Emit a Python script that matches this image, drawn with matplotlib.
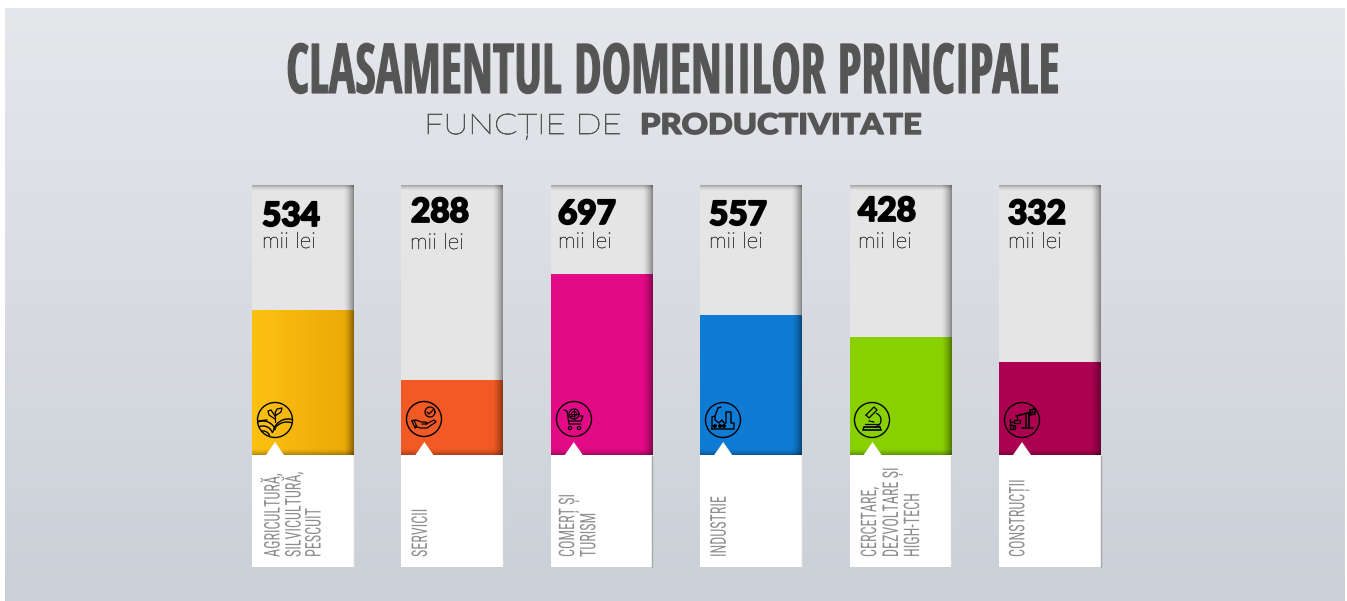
import numpy as np
import matplotlib
matplotlib.use("Agg")
import matplotlib.pyplot as plt
from matplotlib.patheffects import AbstractPathEffect
from matplotlib.patches import Polygon, Circle, Rectangle
from matplotlib.text import Text
from matplotlib.transforms import Affine2D, Bbox

W, H = 1347, 601

# ---- data ----
values = [534, 288, 697, 557, 428, 332]
# visible height of every coloured fill, as a percentage of the column
fill_percent = [53.7, 27.8, 67.0, 51.9, 43.7, 34.4]
unit = "mii lei"
labels = [["AGRICULTURĂ,", "SILVICULTURĂ,", "PESCUIT"],
          ["SERVICII"],
          ["COMERȚ ȘI", "TURISM"],
          ["INDUSTRIE"],
          ["CERCETARE,", "DEZVOLTARE ȘI", "HIGH-TECH"],
          ["CONSTRUCȚII"]]
colors = ["#fdc112", "#f15a24", "#e20a85", "#0e7bd5", "#88d000", "#ac0050"]
title = "CLASAMENTUL DOMENIILOR PRINCIPALE"
sub_light = "FUNCȚIE DE"
sub_bold = "PRODUCTIVITATE"
icons = ["agri", "serv", "cart", "fact", "micro", "crane"]


class Fit(AbstractPathEffect):
    def __init__(self, sx=1, sy=1, px=0, py=0, stroke=0):
        super().__init__()
        self.m = Affine2D().translate(-px, -py).scale(sx, sy).translate(px, py)
        self.stroke = stroke

    def draw_path(self, renderer, gc, tpath, affine, rgbFace=None):
        g = renderer.new_gc()
        g.copy_properties(gc)
        if self.stroke:
            g.set_linewidth(self.stroke)
            g.set_foreground(rgbFace)
        renderer.draw_path(g, tpath, affine + self.m, rgbFace)
        g.restore()


class FitText(Text):
    """Real text, condensed or widened along its reading direction."""
    def __init__(self, x, y, s, sx=1, sy=1, px=0, py=0, stroke=0, **kw):
        super().__init__(x, y, s, **kw)
        self.fit = Fit(sx, sy, px, py, stroke)
        self.set_path_effects([self.fit])

    def get_window_extent(self, renderer=None, dpi=None):
        b = super().get_window_extent(renderer, dpi)
        return Bbox(self.fit.m.transform(b.get_points()))


fig = plt.figure(figsize=(W / 100, H / 100), dpi=100, facecolor="white")
bg = fig.add_axes([0, 0, 1, 1], zorder=0)
chart = fig.add_axes([252 / W, (H - 455) / H, 849 / W, 270 / H], zorder=1)
ov = fig.add_axes([0, 0, 1, 1], zorder=2)
for a in (bg, ov):
    a.set_xlim(0, W); a.set_ylim(H, 0); a.axis("off")
ov.patch.set_alpha(0)

# background panel
grad = np.linspace(0, 1, 256)[:, None, None]
top_c, bot_c = np.array([0.898, 0.906, 0.922]), np.array([0.796, 0.816, 0.847])
bg.imshow(top_c + (bot_c - top_c) * grad, extent=(5, 1345, 601, 8), aspect="auto", interpolation="bilinear")
bg.set_xlim(0, W); bg.set_ylim(H, 0)

# columns
step = 149.4
bar_w = 102 / step
xs = np.arange(len(values))
chart.set_xlim(0, 849 / step); chart.set_ylim(0, 100); chart.axis("off")
chart.patch.set_alpha(0)
chart.bar(xs, [100] * len(xs), width=bar_w, align="edge", color="#e5e5e5", lw=0)
chart.bar(xs, fill_percent, width=bar_w, align="edge", color=colors, lw=0)
# yellow horizontal sheen
sheen = np.zeros((1, 64, 4))
sheen[..., :3] = np.array([0.91, 0.65, 0.02])
sheen[..., 3] = np.linspace(0, 0.9, 64)
chart.imshow(sheen, extent=(0, bar_w, 0, fill_percent[0]), aspect="auto", interpolation="bilinear", zorder=3)
chart.set_xlim(0, 849 / step); chart.set_ylim(0, 100)


def shade(a, ext, direction, amax):
    n = 32
    r = np.linspace(0, 1, n) ** 1.6 * amax
    img = np.zeros((n, 1, 4)) if direction in "tb" else np.zeros((1, n, 4))
    if direction in "tb":
        img[:, 0, 3] = r if direction == "b" else r[::-1]
    else:
        img[0, :, 3] = r
    a.imshow(img, extent=ext, aspect="auto", interpolation="bilinear", zorder=2)


lefts = [252 + i * step for i in xs]
for i, l in enumerate(lefts):
    r = l + 102
    shade(ov, (r - 11, r, 455, 185), "r", 0.42)
    shade(ov, (l, r, 191, 185), "t", 0.30)
    shade(ov, (l, r, 455, 448), "b", 0.30)
    ov.add_patch(Rectangle((l, 455), 102, 112, fc="white", ec="none", zorder=3))
    ov.plot([r - .5, r - .5], [456, 567], color="#d4d6da" if i not in (2, 5) else "#a8a8a8", lw=1, zorder=3)
    cx = l + 23
    ov.add_patch(Polygon([(cx - 9, 456), (cx - 9, 455), (cx, 442), (cx + 9, 455), (cx + 9, 456)],
                         fc="white", ec="none", zorder=3))
ov.set_xlim(0, W); ov.set_ylim(H, 0)


def T(x, y, s, sx=1, sy=1, px=0, py=0, stroke=0, **kw):
    t = FitText(x, y, s, sx=sx, sy=sy, px=px, py=py, stroke=stroke, **kw)
    t.set_zorder(5)
    ov.add_artist(t)
    t.set_clip_on(False)
    return t


COND = ["Open Sans Condensed", "Roboto Condensed", "DejaVu Sans"]
T(673.5, 93, title, sx=0.719, px=673.5, stroke=0.8, ha="center", va="baseline", fontsize=49.5,
  family=COND, weight="bold", color="#555555")
T(424, 134, sub_light, sx=1.21, px=424, stroke=0.55, ha="left", va="baseline", fontsize=20.5,
  family=["Lato", "DejaVu Sans"], weight="light", color="#555555")
T(640, 134, sub_bold, sx=1.144, px=640, stroke=1.0, ha="left", va="baseline", fontsize=20.5,
  family=["Lato", "DejaVu Sans"], weight="black", color="#555555")

val_x = [262, 411, 558, 709, 858, 1008]
val_y = [226, 222, 224, 225, 221, 224]
unit_x = [262, 410, 558, 709, 858, 1008]
unit_y = [248, 249, 248, 248, 248, 248]
for i, v in enumerate(values):
    T(val_x[i], val_y[i], str(v), stroke=1.3, ha="left", va="baseline", fontsize=24,
      family=["Lato", "DejaVu Sans"], weight="black", color="black")
    T(unit_x[i], unit_y[i], unit, stroke=0.3, ha="left", va="baseline", fontsize=16,
      family=["Lato", "DejaVu Sans"], weight="light", color="#333333")

label_off = [[21, 42, 63], [20], [18, 39], [20], [21, 43, 64], [20]]
for i, lines in enumerate(labels):
    for off, s in zip(label_off[i], lines):
        T(lefts[i] + off, 557, s, sy=0.655, px=0, py=H - 557, rotation=90, ha="center", va="bottom",
          rotation_mode="default", fontsize=15.5, family=["Roboto Condensed", "DejaVu Sans"], color="#8e8e8e")


# ---- icons ----
def draw_icon(kind, cx, cy):
    frame = Circle((cx, cy), 17.5, fc="none", ec="black", lw=1.0, zorder=6)
    ov.add_patch(frame)

    def line(pts, lw=0.9, closed=False):
        p = np.array(pts, float)
        if closed:
            p = np.vstack([p, p[:1]])
        art, = ov.plot(cx + p[:, 0], cy + p[:, 1], color="black", lw=lw, zorder=6, solid_capstyle="round")
        art.set_clip_path(frame)

    def arc(x0, y0, r, a0, a1, lw=0.9):
        t = np.radians(np.linspace(a0, a1, 30))
        line(np.c_[x0 + r * np.cos(t), y0 + r * np.sin(t)], lw)

    if kind == "agri":
        line([(0, 2), (0, -9)])
        line([(0, -4), (-4, -10), (-7, -9), (-6, -5), (0, -1)])
        line([(0, -7), (2, -11), (7, -12), (6, -8), (0, -4)])
        arc(-12, 14, 13, 190, 340, 1.0)
        arc(-12, 16, 10, 190, 340, 1.0)
        arc(-12, 18, 7, 190, 340, 1.0)
        arc(13, 14, 15, 200, 320, 1.0)
        arc(12, 17, 15, 200, 320, 1.0)
        line([(-17, 1), (-8, 0)], 1.0)
    elif kind == "serv":
        arc(6, -7, 5, 0, 360)
        line([(3, -7), (5, -5), (10, -10)])
        line([(-12, 2), (-8, 1), (-3, 3), (2, 3), (3, 5), (-2, 5)])
        line([(2, 5), (10, 1), (12, 3), (3, 9), (-4, 9), (-9, 7)])
        line([(-12, 2), (-9, 9), (-7, 8), (-10, 1)], closed=True)
    elif kind == "cart":
        line([(-10, -9), (-7, -8), (-5, 5), (7, 5)])
        line([(-6, -3), (-2, -3)])
        line([(6, -3), (9, -3), (7, 2), (-5, 2)])
        arc(0, -5, 5, 0, 360)
        line([(-5, -5), (5, -5)], 0.7)
        line([(0, -10), (0, 0)], 0.7)
        arc(0, -5, 2.5, 90, 270, 0.7)
        arc(0, -5, 2.5, -90, 90, 0.7)
        arc(-4, 9, 1.6, 0, 360)
        arc(5, 9, 1.6, 0, 360)
    elif kind == "fact":
        line([(-11, 9), (-11, -3), (-8, -4), (-8, 0), (-4, 3), (-1, 0), (1, 3), (3, 3), (3, -8), (8, -8),
              (8, 3), (11, 3), (11, 9)], closed=True, lw=1.0)
        line([(-8, -4), (-5, -12), (-2, -13)], 1.0)
        for dx in (-8, -3, 1):
            ov.add_patch(Circle((cx + dx, cy + 6), 2, fc="black", ec="none", zorder=6))
    elif kind == "micro":
        line([(-6, -5), (2, -13), (5, -10), (-3, -2)], closed=True)
        arc(2, 0, 7, -70, 90)
        line([(-7, 4), (7, 4)])
        line([(-8, 7), (8, 7)], 1.2)
        line([(-9, 10), (9, 10)], 1.2)
        line([(-8, 7), (-9, 10)])
        line([(8, 7), (9, 10)])
        line([(-3, 1), (2, 2)])
    else:
        line([(-6, -4), (6, -7), (11, -8)], 1.2)
        line([(4, -7), (4, 8)], 1.2)
        line([(7, -7), (7, 8)], 1.2)
        line([(0, 8), (11, 8)], 1.2)
        line([(8, -10), (13, -11), (13, -6), (8, -5)], closed=True, lw=1.2)
        line([(-5, -4), (-5, 0), (-8, 0), (-8, 3), (-2, 3), (-2, 0), (-5, 0)])
        line([(-12, -1), (-12, 9), (-7, 9), (-7, 5), (-12, 5)], 1.0)
        line([(-12, 2), (-9, 2)], 1.0)
        line([(-9, 5), (-9, 9)], 1.0)


icon_x = [275, 424, 574, 723, 872, 1022]
icon_y = [420, 419, 419, 420, 420, 420]
for k, x, y in zip(icons, icon_x, icon_y):
    draw_icon(k, x, y)

ov.set_xlim(0, W); ov.set_ylim(H, 0)
fig.savefig("out.png", dpi=100, facecolor="white")
